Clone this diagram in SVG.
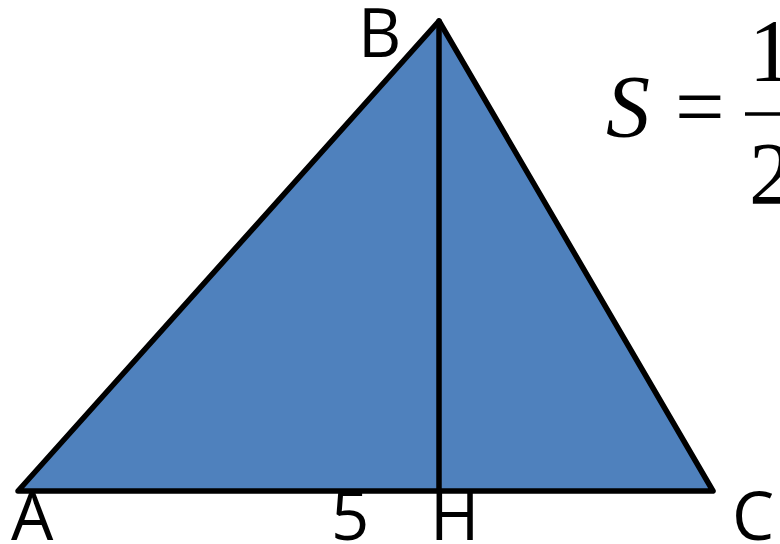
<svg xmlns="http://www.w3.org/2000/svg" width="780" height="544" viewBox="0 0 780 544">
<style>
.lbl{font-family:"Open Sans","DejaVu Sans",sans-serif;font-size:67px;fill:#000}
.math{font-family:"Liberation Serif","Times New Roman",serif;font-size:88px;fill:#000}
.edge{stroke:#000;stroke-width:5.5;stroke-linecap:round;fill:none}
</style>
<rect width="780" height="544" fill="#fff"/>
<g id="triangle">
<polygon points="18,491 439,21 713,491" fill="#4F81BD" stroke="#000" stroke-width="5.5" stroke-linejoin="round"/>
</g>
<g id="connectors">
<line class="edge" x1="439" y1="21" x2="439" y2="491"/>
</g>
<g id="label-B"><text class="lbl" x="358" y="57">B</text></g>
<g id="label-A"><text class="lbl" x="11" y="540">A</text></g>
<g id="label-5"><text class="lbl" x="331" y="540">5</text></g>
<g id="label-H"><text class="lbl" x="430" y="540">H</text></g>
<g id="label-C"><text class="lbl" x="732" y="540">C</text></g>
<g id="formula">
<text class="math" x="606" y="136" font-style="italic">S</text>
<text class="math" x="675" y="136">=</text>
<line x1="745" y1="114" x2="790" y2="114" stroke="#000" stroke-width="3.5"/>
<text class="math" x="749" y="80">1</text>
<text class="math" x="749" y="203">2</text>
</g>
</svg>
